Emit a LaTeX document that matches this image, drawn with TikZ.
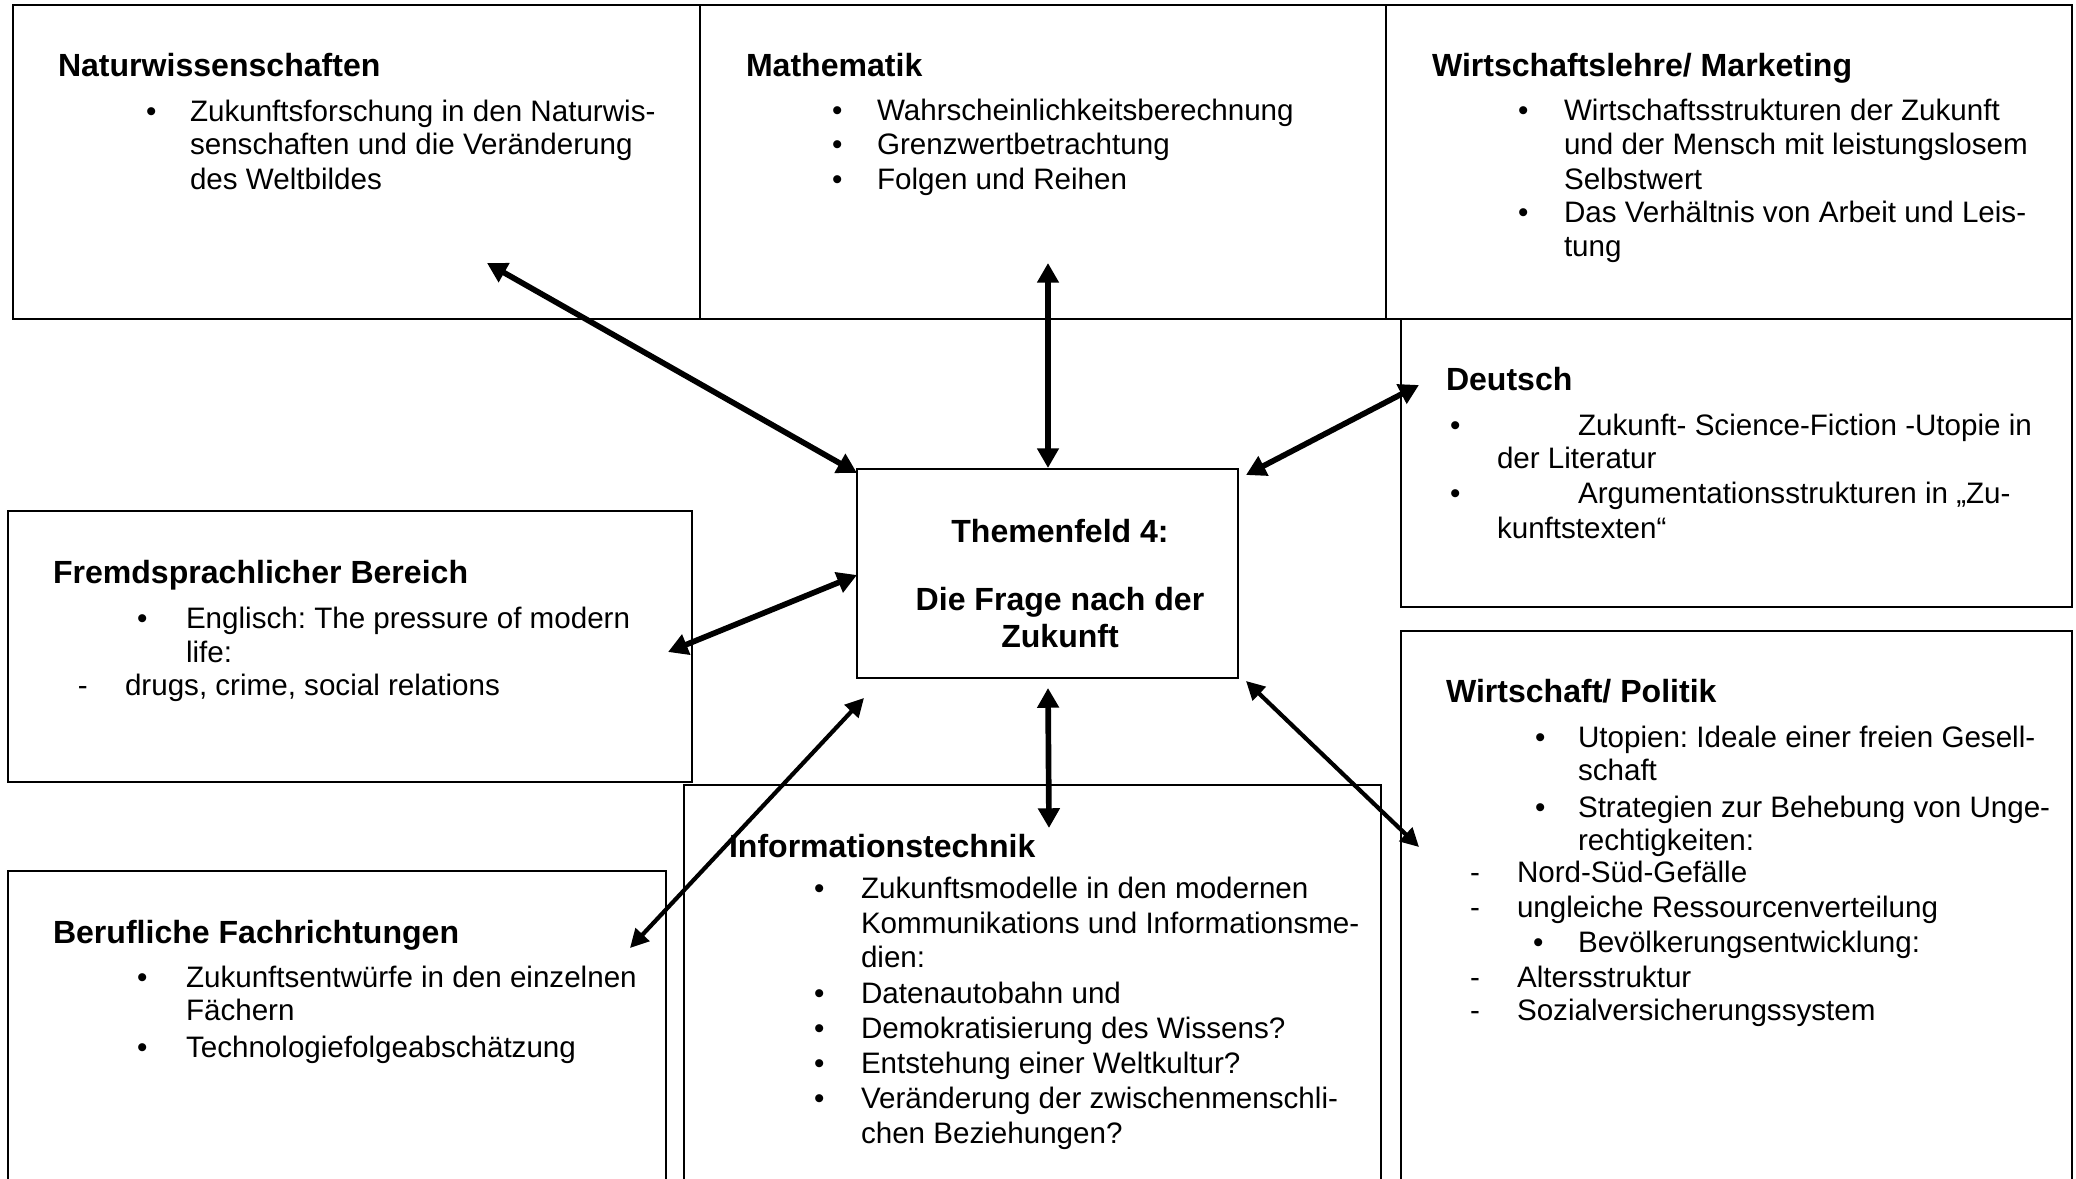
\documentclass[tikz,border=0pt]{standalone}
\usepackage{fontspec}
\setmainfont{Liberation Sans}
\usetikzlibrary{arrows.meta}
\frenchspacing
\newcommand\boxnode[5]{\node[box, minimum width={(#4-#2)*0.4055pt}, minimum height={(#5-#3)*0.4055pt}] (#1) at ({(#2+#4)/2},{(#3+#5)/2}) {};}
\begin{document}
\begin{tikzpicture}[x=0.4055pt,y=-0.4055pt,
  box/.style={draw, line width=0.7pt, inner sep=0pt, outer sep=0pt, rectangle},
  txt/.style={anchor=base west, inner sep=0pt, outer sep=0pt, font=\fontsize{12}{14}\selectfont},
  head/.style={txt, font=\fontsize{13}{15}\selectfont\bfseries},
  ctr/.style={anchor=base, inner sep=0pt, outer sep=0pt, font=\fontsize{13}{15}\selectfont\bfseries},
  link/.style={{Triangle[length=8pt,width=8.5pt]}-{Triangle[length=8pt,width=8.5pt]}, line width=2.3pt},
  thinlink/.style={{Triangle[length=7.5pt,width=7.5pt]}-{Triangle[length=7.5pt,width=7.5pt]}, line width=1.7pt}]
\path[use as bounding box] (0,0) rectangle (2076,1179);
\clip (0,0) rectangle (2076,1179);
% boxes
\boxnode{nat}{13}{5}{700}{319}
\boxnode{mat}{700}{5}{1386}{319}
\boxnode{wil}{1386}{5}{2072}{319}
\boxnode{deu}{1401}{319}{2072}{607}
\boxnode{wip}{1401}{631}{2072}{1260}
\boxnode{fre}{8}{511}{692}{782}
\boxnode{ber}{8}{871}{666}{1260}
\boxnode{inf}{684}{785}{1381}{1260}
\boxnode{cen}{857}{469}{1238}{678}
% arrow end points
\coordinate (aN) at (487,263);  \coordinate (aNc) at (857,473);
\coordinate (aM) at (1048,263); \coordinate (aMc) at (1048,468);
\coordinate (aD) at (1419,385); \coordinate (aDc) at (1246,475);
\coordinate (aF) at (668,652);  \coordinate (aFc) at (857,575);
\coordinate (aIc) at (1048,688); \coordinate (aI) at (1049,828);
\coordinate (aB) at (630,948);  \coordinate (aBc) at (864,698);
\coordinate (aWc) at (1246,681); \coordinate (aW) at (1419,847);
\draw[link] (aN) -- (aNc);
\draw[link] (aM) -- (aMc);
\draw[link] (aD) -- (aDc);
\draw[link] (aF) -- (aFc);
\draw[link] (aIc) -- (aI);
\draw[thinlink] (aB) -- (aBc);
\draw[thinlink] (aWc) -- (aW);
% centre
\node[ctr] (c1) at (1060,542) {Themenfeld 4:};
\node[ctr] (c2) at (1060,610) {Die Frage nach der};
\node[ctr] (c3) at (1060,647) {Zukunft};
% Naturwissenschaften
\node[head] (nath) at (58,77) {Naturwissenschaften};
\node[txt] (natb1) at (146,122) {\textbullet};
\node[txt] (nat1) at (190,122) {Zukunftsforschung in den Naturwis-};
\node[txt] (nat2) at (190,155) {senschaften und die Veränderung};
\node[txt] (nat3) at (190,189) {des Weltbildes};
% Mathematik
\node[head] (math) at (746,77) {Mathematik};
\node[txt] (matb1) at (832,121) {\textbullet};
\node[txt] (matb2) at (832,155) {\textbullet};
\node[txt] (matb3) at (832,189) {\textbullet};
\node[txt] (mat1) at (877,121) {Wahrscheinlichkeitsberechnung};
\node[txt] (mat2) at (877,155) {Grenzwertbetrachtung};
\node[txt] (mat3) at (877,189) {Folgen und Reihen};
% Wirtschaftslehre
\node[head] (wilh) at (1432,77) {Wirtschaftslehre/ Marketing};
\node[txt] (wilb1) at (1518,121) {\textbullet};
\node[txt] (wilb2) at (1518,223) {\textbullet};
\node[txt] (wil1) at (1564,121) {Wirtschaftsstrukturen der Zukunft};
\node[txt] (wil2) at (1564,155) {und der Mensch mit leistungslosem};
\node[txt] (wil3) at (1564,189) {Selbstwert};
\node[txt] (wil4) at (1564,223) {Das Verhältnis von Arbeit und Leis-};
\node[txt] (wil5) at (1564,257) {tung};
% Deutsch
\node[head] (deuh) at (1446,390) {Deutsch};
\node[txt] (deub1) at (1450,435) {\textbullet};
\node[txt] (deub2) at (1450,503) {\textbullet};
\node[txt] (deu1) at (1578,435) {Zukunft- Science-Fiction -Utopie in};
\node[txt] (deu2) at (1497,468) {der Literatur};
\node[txt] (deu3) at (1578,503) {Argumentationsstrukturen in „Zu-};
\node[txt] (deu4) at (1497,538) {kunftstexten“};
% Wirtschaft/ Politik
\node[head] (wiph) at (1446,702) {Wirtschaft/ Politik};
\node[txt] (wipb1) at (1535,747) {\textbullet};
\node[txt] (wipb2) at (1535,817) {\textbullet};
\node[txt] (wipb3) at (1533,952) {\textbullet};
\node[txt] (wip1) at (1578,747) {Utopien: Ideale einer freien Gesell-};
\node[txt] (wip2) at (1578,780) {schaft};
\node[txt] (wip3) at (1578,817) {Strategien zur Behebung von Unge-};
\node[txt] (wip4) at (1578,850) {rechtigkeiten:};
\node[txt] (wipd1) at (1470,882) {-};
\node[txt] (wip5) at (1517,882) {Nord-Süd-Gefälle};
\node[txt] (wipd2) at (1470,917) {-};
\node[txt] (wip6) at (1517,917) {ungleiche Ressourcenverteilung};
\node[txt] (wip7) at (1578,952) {Bevölkerungsentwicklung:};
\node[txt] (wipd3) at (1470,987) {-};
\node[txt] (wip8) at (1517,987) {Altersstruktur};
\node[txt] (wipd4) at (1470,1020) {-};
\node[txt] (wip9) at (1517,1020) {Sozialversicherungssystem};
% Fremdsprachlicher Bereich
\node[head] (freh) at (53,583) {Fremdsprachlicher Bereich};
\node[txt] (freb1) at (137,628) {\textbullet};
\node[txt] (fre1) at (186,628) {Englisch: The pressure of modern};
\node[txt] (fre2) at (186,662) {life:};
\node[txt] (fred1) at (78,695) {-};
\node[txt] (fre3) at (125,695) {drugs, crime, social relations};
% Berufliche Fachrichtungen
\node[head] (berh) at (53,943) {Berufliche Fachrichtungen};
\node[txt] (berb1) at (137,987) {\textbullet};
\node[txt] (berb2) at (137,1057) {\textbullet};
\node[txt] (ber1) at (186,987) {Zukunftsentwürfe in den einzelnen};
\node[txt] (ber2) at (186,1020) {Fächern};
\node[txt] (ber3) at (186,1057) {Technologiefolgeabschätzung};
% Informationstechnik
\node[head] (infh) at (729,857) {Informationstechnik};
\node[txt] (infb1) at (814,898) {\textbullet};
\node[txt] (infb2) at (814,1003) {\textbullet};
\node[txt] (infb3) at (814,1038) {\textbullet};
\node[txt] (infb4) at (814,1073) {\textbullet};
\node[txt] (infb5) at (814,1108) {\textbullet};
\node[txt] (inf1) at (861,898) {Zukunftsmodelle in den modernen};
\node[txt] (inf2) at (861,933) {Kommunikations und Informationsme-};
\node[txt] (inf3) at (861,967) {dien:};
\node[txt] (inf4) at (861,1003) {Datenautobahn und};
\node[txt] (inf5) at (861,1038) {Demokratisierung des Wissens?};
\node[txt] (inf6) at (861,1073) {Entstehung einer Weltkultur?};
\node[txt] (inf7) at (861,1108) {Veränderung der zwischenmenschli-};
\node[txt] (inf8) at (861,1143) {chen Beziehungen?};
\end{tikzpicture}
\end{document}
